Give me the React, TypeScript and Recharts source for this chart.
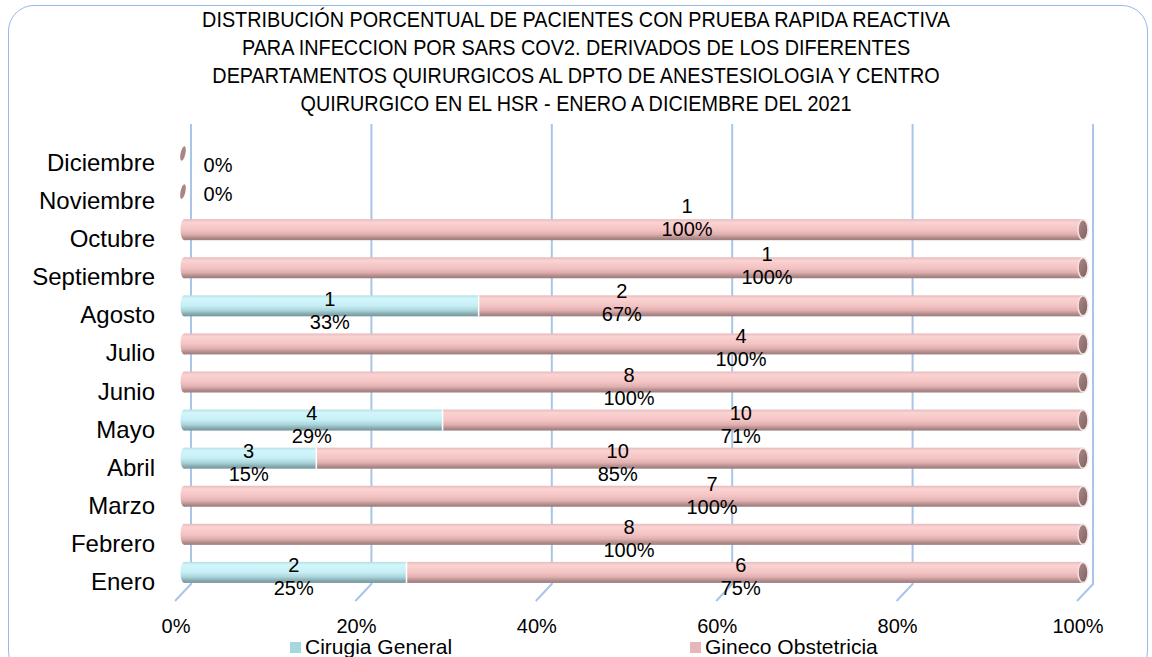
import { BarChart, Bar, XAxis, YAxis, CartesianGrid, LabelList } from 'recharts';

const months = ['Enero', 'Febrero', 'Marzo', 'Abril', 'Mayo', 'Junio', 'Julio', 'Agosto', 'Septiembre', 'Octubre', 'Noviembre', 'Diciembre'];
const cirugiaPct = [25, 0, 0, 15, 29, 0, 0, 33, 0, 0, 0, 0];
const ginecoPct = [75, 100, 100, 85, 71, 100, 100, 67, 100, 100, 0, 0];
const cirugiaCount = [2, 0, 0, 3, 4, 0, 0, 1, 0, 0, 0, 0];
const ginecoCount = [6, 8, 7, 10, 10, 8, 4, 2, 1, 1, 0, 0];
const xTicks = [0, 0.2, 0.4, 0.6, 0.8, 1];
const seriesNames = ['Cirugia General', 'Gineco Obstetricia'];
const titleLines = [
  'DISTRIBUCIÓN PORCENTUAL DE PACIENTES CON PRUEBA RAPIDA REACTIVA',
  'PARA INFECCION POR SARS COV2. DERIVADOS DE LOS DIFERENTES',
  'DEPARTAMENTOS QUIRURGICOS AL DPTO DE ANESTESIOLOGIA Y CENTRO',
  'QUIRURGICO EN EL HSR - ENERO A DICIEMBRE DEL 2021',
];

// labels for Gineco were dragged around by hand in the original, [dx, dy] in px
const ginecoLabelNudge = [[-4, 0], [-3, 0], [80, -5], [-82, 0], [-22, 0], [-3, 0], [109, -1], [-159, -8], [135, -7], [55, -17], [37, -14], [37, -5]];

const data = months.map((m, i) => ({
  month: m,
  cg: cirugiaPct[i] / 100,
  go: ginecoPct[i] / 100,
}));

const FONT = '"Liberation Sans", Arial, sans-serif';
const legendColors = ['#a4d8e0', '#e8b6b6'];

const txt = { fontFamily: FONT, fontSize: 20, fill: '#000' };

function CirugiaShape(p: any) {
  const { x, y, width, height } = p;
  if (!width || width <= 0) return <g />;
  const cy = y + height / 2;
  return (
    <g>
      <rect x={x + 3} y={y} width={width - 3} height={height} fill="url(#gBlue)" />
      <ellipse cx={x + 3} cy={cy} rx={3.5} ry={height / 2} fill="url(#gBlue)" />
    </g>
  );
}

function GinecoShape(p: any) {
  const { x, y, width, height, payload } = p;
  if (!width || width <= 0) return <g />;
  const cy = y + height / 2;
  const first = !payload || !payload.cg;
  const left = first ? x + 3 : x;
  return (
    <g>
      <rect x={left} y={y} width={x + width - left} height={height} fill="url(#gPink)" />
      {first ? (
        <ellipse cx={left} cy={cy} rx={3.5} ry={height / 2} fill="url(#gPink)" />
      ) : (
        <line x1={x} y1={y} x2={x} y2={y + height} stroke="#ffffff" strokeWidth={1.5} />
      )}
      <ellipse cx={x + width} cy={cy} rx={5} ry={height / 2 - 0.5} fill="url(#gCap)" stroke="#f2e2e2" strokeWidth={1.5} />
    </g>
  );
}

function cirugiaLabel(p: any) {
  const vb = p.viewBox || p;
  const i = p.index;
  if (!cirugiaPct[i]) return null;
  const cx = vb.x + vb.width / 2;
  const cy = vb.y + vb.height / 2;
  return (
    <g key={`cl-${i}`}>
      <text x={cx} y={cy} textAnchor="middle" style={txt}>{cirugiaCount[i]}</text>
      <text x={cx} y={cy + 23} textAnchor="middle" style={txt}>{cirugiaPct[i]}%</text>
    </g>
  );
}

function ginecoLabel(p: any) {
  const vb = p.viewBox || p;
  const i = p.index;
  const [dx, dy] = ginecoLabelNudge[i];
  const cy = vb.y + vb.height / 2;
  if (!ginecoPct[i]) {
    return (
      <g key={`gl-${i}`}>
        <ellipse cx={vb.x + 2} cy={cy} rx={2.4} ry={7.5} fill="#9a7070" opacity={0.85} transform={`rotate(12 ${vb.x + 2} ${cy})`} />
        <text x={vb.x + dx} y={cy + 23 + dy} textAnchor="middle" style={txt}>0%</text>
      </g>
    );
  }
  const cx = vb.x + vb.width / 2 + dx;
  return (
    <g key={`gl-${i}`}>
      <text x={cx} y={cy + dy} textAnchor="middle" style={txt}>{ginecoCount[i]}</text>
      <text x={cx} y={cy + 23 + dy} textAnchor="middle" style={txt}>{ginecoPct[i]}%</text>
    </g>
  );
}

function MonthTick(p: any) {
  const { y, payload } = p;
  return (
    <text x={155} y={y + 18} textAnchor="end" style={{ fontFamily: FONT, fontSize: 24, fill: '#000' }}>
      {payload.value}
    </text>
  );
}

function PctTick(p: any) {
  const { x, payload } = p;
  return (
    <text x={x - 5} y={633} textAnchor="middle" style={txt}>
      {Math.round(payload.value * 100)}%
    </text>
  );
}

function BackLine(p: any) {
  const x = p.x1 + 10;
  return (
    <polyline
      key={p.key}
      points={`${x},124 ${x},584 ${p.x1 - 6},601`}
      fill="none"
      stroke="#a9c5ea"
      strokeWidth={2}
    />
  );
}

export default function App() {
  return (
    <div style={{ position: 'absolute', left: 0, top: 0, width: 1152, height: 657, overflow: 'hidden', background: '#fff' }}>
      <div
        style={{
          position: 'absolute', left: 8, top: 5, width: 1138, height: 670,
          border: '1.5px solid #97b9e6', borderRadius: 26,
        }}
      />
      <div
        style={{
          position: 'absolute', left: 0, top: 6, width: 1152, textAlign: 'center',
          fontFamily: FONT, fontSize: 22, lineHeight: '28px', color: '#000',
          transform: 'scaleX(0.9)', transformOrigin: '576px 0',
        }}
      >
        {titleLines.map((l) => (
          <div key={l}>{l}</div>
        ))}
      </div>
      <div style={{ position: 'absolute', left: 0, top: 0 }}>
        <BarChart
          width={1152}
          height={657}
          data={data}
          layout="vertical"
          margin={{ top: 134, right: 69, bottom: 26, left: 11 }}
          barSize={21}
        >
          <defs>
            <linearGradient id="gPink" x1="0" y1="0" x2="0" y2="1">
              <stop offset="0%" stopColor="#e6baba" />
              <stop offset="15%" stopColor="#fbd3d3" />
              <stop offset="50%" stopColor="#f4c3c3" />
              <stop offset="72%" stopColor="#e0b0b0" />
              <stop offset="88%" stopColor="#b58d8d" />
              <stop offset="100%" stopColor="#9a7b7b" />
            </linearGradient>
            <linearGradient id="gBlue" x1="0" y1="0" x2="0" y2="1">
              <stop offset="0%" stopColor="#b6e0e6" />
              <stop offset="15%" stopColor="#d2f6fb" />
              <stop offset="50%" stopColor="#c5eff5" />
              <stop offset="72%" stopColor="#aad4da" />
              <stop offset="88%" stopColor="#88acb2" />
              <stop offset="100%" stopColor="#75959a" />
            </linearGradient>
            <linearGradient id="gCap" x1="0" y1="0" x2="1" y2="1">
              <stop offset="0%" stopColor="#b08a8a" />
              <stop offset="100%" stopColor="#7c5f5f" />
            </linearGradient>
          </defs>
          <CartesianGrid horizontal={false} vertical={BackLine} />
          <XAxis
            type="number"
            domain={[0, 1]}
            ticks={xTicks}
            axisLine={false}
            tickLine={false}
            height={40}
            tick={<PctTick />}
          />
          <YAxis
            type="category"
            dataKey="month"
            reversed
            width={170}
            axisLine={false}
            tickLine={false}
            tick={<MonthTick />}
            interval={0}
          />
          <Bar dataKey="cg" name={seriesNames[0]} stackId="a" shape={<CirugiaShape />} isAnimationActive={false}>
            <LabelList dataKey="cg" content={cirugiaLabel} />
          </Bar>
          <Bar dataKey="go" name={seriesNames[1]} stackId="a" shape={<GinecoShape />} isAnimationActive={false}>
            <LabelList dataKey="go" content={ginecoLabel} />
          </Bar>
        </BarChart>
      </div>
      <div style={{ position: 'absolute', left: 0, top: 636, width: 1152, height: 22, fontFamily: FONT, fontSize: 21, color: '#000' }}>
        {seriesNames.map((n, i) => (
          <div key={n} style={{ position: 'absolute', left: i === 0 ? 290 : 690, top: 0, display: 'flex', alignItems: 'center', height: 22 }}>
            <span style={{ display: 'inline-block', width: 11, height: 11, background: legendColors[i], marginRight: 4 }} />
            <span>{n}</span>
          </div>
        ))}
      </div>
    </div>
  );
}
